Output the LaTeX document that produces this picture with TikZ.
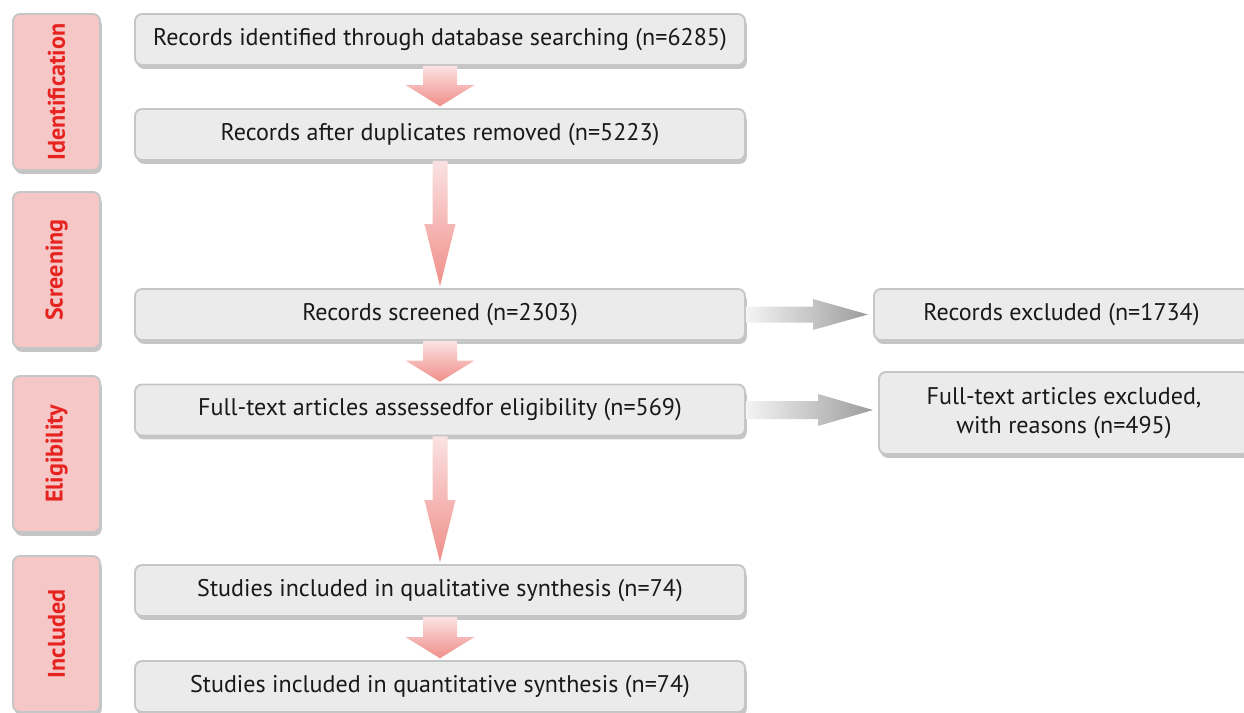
\documentclass[tikz,border=0pt]{standalone}
\usepackage{fontspec}
\setmainfont{PT Sans}
\usepackage{graphicx}
\usetikzlibrary{positioning}
\usetikzlibrary{shadows}
\usetikzlibrary{calc}

\definecolor{boxfill}{HTML}{EBEBEB}
\definecolor{boxline}{HTML}{C6C6C6}
\definecolor{stagefill}{HTML}{F6C7C7}
\definecolor{stagetext}{HTML}{E6231F}
\definecolor{arrowred}{HTML}{F08E89}
\definecolor{arrowpale}{HTML}{FAE2E2}
\definecolor{arrowgray}{HTML}{9C9C9C}
\definecolor{arrowwhite}{HTML}{F4F4F4}

\tikzset{
boxshadow/.style={drop shadow={shadow xshift=1pt,shadow yshift=-2.2pt,fill=black!45,opacity=.5}},
stepbox/.style={draw=boxline,fill=boxfill,line width=1.1pt,rounded corners=4pt,
minimum width=12.2cm,minimum height=1.02cm,align=center,text=black!90,
font=\fontsize{13.7}{16.4}\selectfont,boxshadow},
sidebox/.style={stepbox,minimum width=7.5cm},
stagebox/.style={draw=boxline,fill=stagefill,line width=1.1pt,rounded corners=4pt,
minimum width=1.74cm,minimum height=3.12cm,text=stagetext,
font=\fontsize{13.7}{16}\selectfont\bfseries,boxshadow}
}

% fat arrow going down from #1 to #2: shaft half width, head half width, head length
\newcommand\fatdown[5]{%
\shade[top color=arrowpale,bottom color=arrowred]
([xshift=-#3]#1.south)--([xshift=-#3,yshift=#5]#2.north)
--([xshift=-#4,yshift=#5]#2.north)--([yshift=1pt]#2.north)
--([xshift=#4,yshift=#5]#2.north)--([xshift=#3,yshift=#5]#2.north)
--([xshift=#3]#1.south)--cycle;}

% fat arrow going right from #1 to #2
\newcommand\fatright[5]{%
\path(#2.west|-#1.east)coordinate(tip);
\shade[left color=arrowwhite,right color=arrowgray]
([yshift=-#3]#1.east)--([xshift=-#5,yshift=-#3]tip)
--([xshift=-#5,yshift=-#4]tip)--([xshift=-1mm]tip)
--([xshift=-#5,yshift=#4]tip)--([xshift=-#5,yshift=#3]tip)
--([yshift=#3]#1.east)--cycle;}

\begin{document}
\begin{tikzpicture}
\useasboundingbox(0,0)rectangle(24.88,-14.26);

\node[stagebox](S1)at(1.13,-1.84){\rotatebox{90}{Identification}};
\node[stagebox](S2)at(1.13,-5.40){\rotatebox{90}{Screening}};
\node[stagebox](S3)at(1.13,-9.08){\rotatebox{90}{Eligibility}};
\node[stagebox](S4)at(1.13,-12.68){\rotatebox{90}{Included}};

\node[stepbox](B1)at(8.8,-0.79){Records identified through database searching (n=6285)};
\node[stepbox](B2)at(8.8,-2.69){Records after duplicates removed (n=5223)};
\node[stepbox](B3)at(8.8,-6.29){Records screened (n=2303)};
\node[stepbox](B4)at(8.8,-8.20){Full-text articles assessedfor eligibility (n=569)};
\node[stepbox](B5)at(8.8,-11.81){Studies included in qualitative synthesis (n=74)};
\node[stepbox](B6)at(8.8,-13.73){Studies included in quantitative synthesis (n=74)};

\node[sidebox,anchor=west](R1)at(17.46,-6.29){Records excluded (n=1734)};
\node[sidebox,anchor=west,minimum height=1.64cm,minimum width=7.4cm](R2)at(17.56,-8.26)
{Full-text articles excluded,\\with reasons (n=495)};

\fatdown{B1}{B2}{3.4mm}{6.9mm}{4.6mm}
\fatdown{B2}{B3}{1.5mm}{3.1mm}{12.8mm}
\fatdown{B3}{B4}{3.4mm}{6.9mm}{4.6mm}
\fatdown{B4}{B5}{1.5mm}{3.1mm}{12.8mm}
\fatdown{B5}{B6}{3.4mm}{6.9mm}{4.6mm}

\fatright{B3}{R1}{1.6mm}{3.1mm}{12mm}
\fatright{B4}{R2}{1.8mm}{3.2mm}{12mm}
\end{tikzpicture}
\end{document}
